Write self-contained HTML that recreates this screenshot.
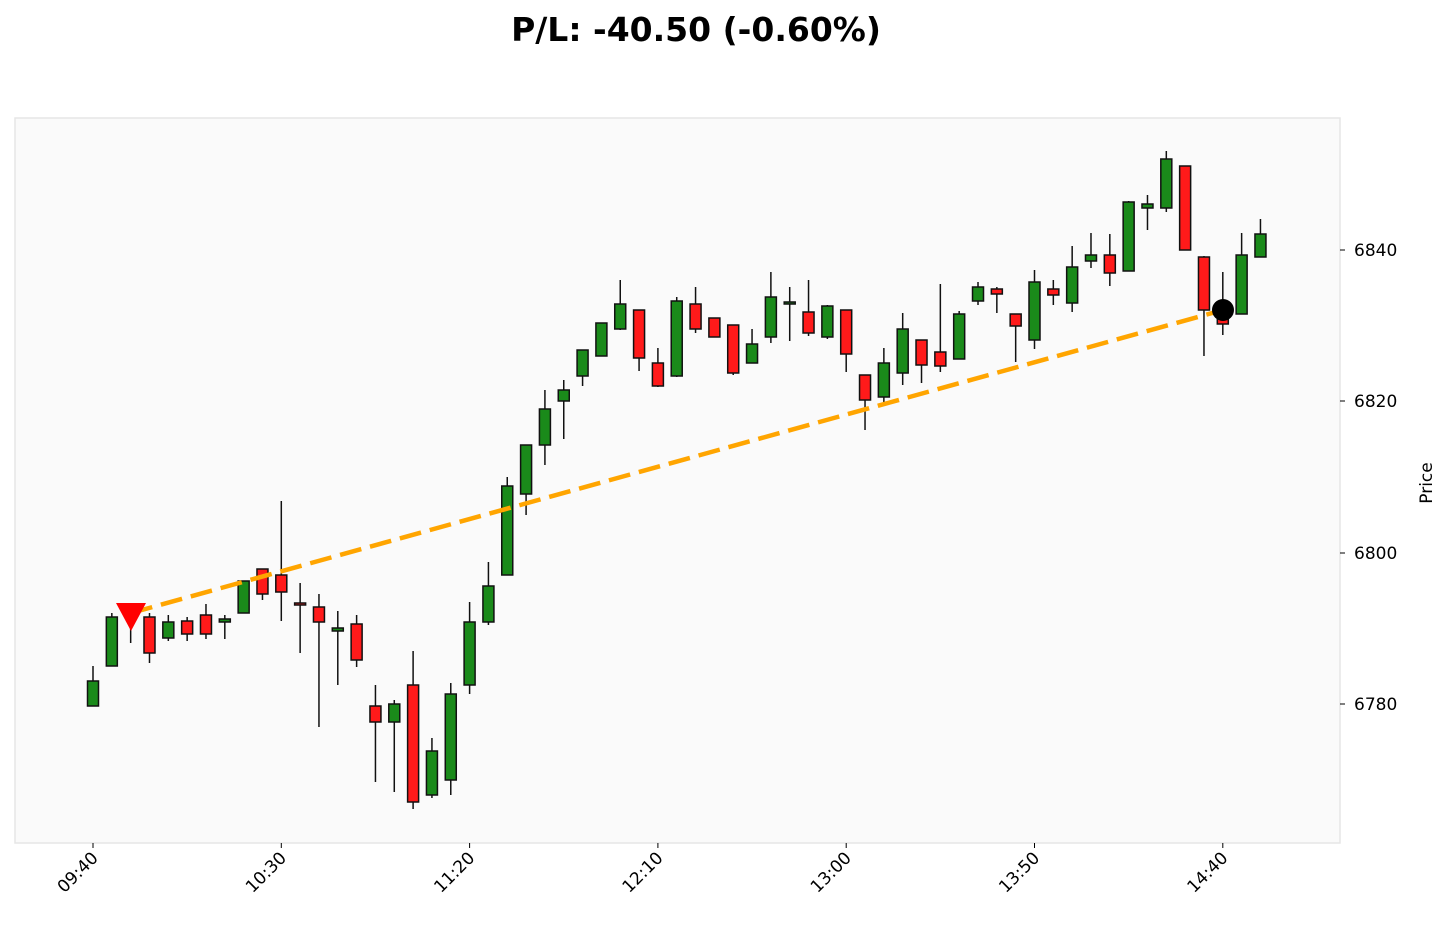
<!DOCTYPE html>
<html><head><meta charset="utf-8"><style>
body{margin:0;background:#fff;font-family:"Liberation Sans","DejaVu Sans",sans-serif;}
</style></head><body>
<svg id="s" width="1450" height="929" xmlns="http://www.w3.org/2000/svg" font-family="DejaVu Sans, Liberation Sans, sans-serif">
<text x="696" y="41" text-anchor="middle" font-size="33" font-weight="bold" fill="#000">P/L: -40.50 (-0.60%)</text>
<rect x="15" y="118" width="1325" height="725" fill="#fafafa" stroke="#e6e6e6" stroke-width="1.5"/>
<g id="c"></g>
<line x1="131" y1="613" x2="1223" y2="310" stroke="#ffa500" stroke-width="4.5" stroke-dasharray="22,9"/>
<polygon points="116,603 146,603 131,631" fill="#ff0000"/>
<circle cx="1223" cy="310" r="11" fill="#000"/>
<g font-size="17" fill="#000">
<text x="1354" y="256">6840</text>
<text x="1354" y="407">6820</text>
<text x="1354" y="559">6800</text>
<text x="1354" y="710">6780</text>
<text transform="translate(1432,483) rotate(-90)" text-anchor="middle">Price</text>
</g>
<g stroke="#000" stroke-width="1">
<line x1="1340" y1="250" x2="1345" y2="250"/><line x1="1340" y1="401" x2="1345" y2="401"/>
<line x1="1340" y1="553" x2="1345" y2="553"/><line x1="1340" y1="704" x2="1345" y2="704"/>
</g>
<g id="xt" font-size="17" fill="#000"></g>
</svg>
<script>
var d=[
["G",681,706,666,706],["G",617,666,613,666],["G",614,616,603,643],["R",617,653,613,663],["G",622,638,615,641],
["R",621,634,617,641],["R",615,634,604,639],["G",619,622,615,639],["G",581,613,581,613],["R",569,594,569,600],
["R",575,592,501,621],["R",603,605,583,653],["R",607,622,594,727],["G",628,631,611,685],["R",624,660,615,667],
["R",706,722,685,782],["G",704,722,700,792],["R",685,802,651,809],["G",751,795,738,798],["G",694,780,683,795],
["G",622,685,602,694],["G",586,622,562,625],["G",486,575,477,575],["G",445,494,445,515],["G",409,445,390,465],
["G",390,401,380,439],["G",350,376,350,386],["G",323,356,323,356],["G",304,329,280,330],["R",310,358,310,371],
["R",363,386,348,387],["G",301,376,297,377],["R",304,329,287,333],["R",318,337,318,337],["R",325,373,325,375],
["G",344,363,329,363],["G",297,337,272,343],["G",302,304,287,341],["R",312,333,280,336],["G",306,337,305,339],
["R",310,354,310,372],["R",375,400,375,430],["G",363,397,348,403],["G",329,373,313,385],["R",340,365,340,383],
["R",352,366,284,372],["G",314,359,311,359],["G",287,301,282,305],["R",289,294,287,313],["R",314,326,314,362],
["G",282,340,270,349],["R",289,295,280,305],["G",267,303,246,312],["G",255,261,233,268],["R",255,273,234,286],
["G",202,271,201,271],["G",204,208,195,230],["G",159,208,151,212],["R",166,250,166,250],["R",257,310,256,356],
["R",312,324,272,335],["G",255,314,233,314],["G",234,257,219,257]];
var g=document.getElementById("c"),h="";
d.forEach(function(c,i){var x=93+18.83*i;
h+='<line x1="'+x+'" y1="'+c[3]+'" x2="'+x+'" y2="'+c[4]+'" stroke="#111" stroke-width="1.5"/>';
h+='<rect x="'+(x-5.5)+'" y="'+c[1]+'" width="11" height="'+Math.max(c[2]-c[1],2)+'" fill="'+(c[0]=="G"?"#1a8a1a":"#ff1a1a")+'" stroke="#111" stroke-width="1.5"/>';});
g.innerHTML=h;
var lab=["09:40","10:30","11:20","12:10","13:00","13:50","14:40"],t="";
lab.forEach(function(l,i){var x=93+188.3*i;
t+='<line x1="'+x+'" y1="843" x2="'+x+'" y2="848" stroke="#000"/>';
t+='<text transform="translate('+(x+6)+',859) rotate(-45)" text-anchor="end">'+l+'</text>';});
document.getElementById("xt").innerHTML=t;
</script>
</body></html>
